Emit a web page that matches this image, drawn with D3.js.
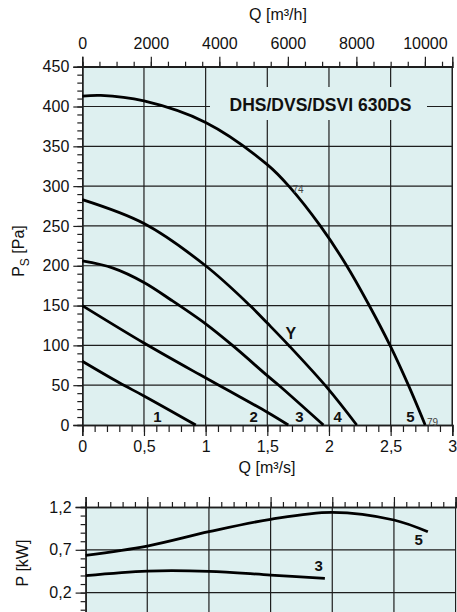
<!DOCTYPE html>
<html><head><meta charset="utf-8">
<script src="https://cdn.jsdelivr.net/npm/d3@7"></script>
<style>
html,body{margin:0;padding:0;background:#fff;}
svg{display:block;font-family:"Liberation Sans",Arial,sans-serif;}
</style></head>
<body>
<svg id="chart" width="457" height="612"></svg>
<script>
// ---------- DATA ----------
const qTicks = [0, 0.5, 1, 1.5, 2, 2.5, 3];            // m3/s
const qhTicks = [0, 2000, 4000, 6000, 8000, 10000];      // m3/h
const psTicks = [0, 50, 100, 150, 200, 250, 300, 350, 400, 450];
const pTicks = [0.2, 0.7, 1.2];

// Pressure curves [Q m3/s, Ps Pa]
const curve1 = [[0,80],[0.3,53],[0.5,36.5],[0.92,0]];
const curve2 = [[0,150],[0.5,103],[0.955,63],[1.2,42],[1.5,16],[1.67,0]];
const curve3 = [[0,206],[0.25,197],[0.5,179],[0.72,157],[1,127],[1.225,99],[1.5,62],[1.6,49],[1.955,0]];
const curve4 = [[0,283],[0.5,253],[1,200],[1.36,150],[1.5,128],[1.68,99],[1.99,46],[2.225,0]];
const curve5 = [[0,413],[0.15,414],[0.5,407],[1,380],[1.5,327],[1.68,299],[1.93,250],[2.14,201],[2.32,152],[2.495,100],[2.644,50],[2.78,0]];
const curveNames = ["1","2","3","4","5"];
const curveLabelQ = [0.61, 1.39, 1.76, 2.07, 2.66];

// Power curves [Q m3/s, P kW]
const power3 = [[0,0.398],[0.5,0.452],[1,0.449],[1.5,0.405],[1.94,0.367]];
const power5 = [[0,0.636],[0.5,0.744],[1,0.911],[1.5,1.056],[2,1.138],[2.5,1.048],[2.775,0.91]];

const title = "DHS/DVS/DSVI 630DS";

// ---------- LAYOUT ----------
const bg = "#def0f0";
const gridC = "#1e1e1e";
const svg = d3.select("#chart");
const fmt = d => String(d).replace(".", ",");
const tickFont = 16;

// ===== Top chart =====
const x = d3.scaleLinear().domain([0,3]).range([82.3, 452.3]);
const xh = d3.scaleLinear().domain([0,3*3600]).range([82.3, 452.3]);
const y = d3.scaleLinear().domain([0,450]).range([425, 66.7]);

const gTop = svg.append("g");
gTop.append("rect").attr("x", x(0)).attr("y", y(450)).attr("width", x(3)-x(0)).attr("height", y(0)-y(450)).attr("fill", bg);

// grid
gTop.selectAll("line.vg").data(qTicks.filter(d=>d>0)).join("line")
  .attr("x1", d=>x(d)).attr("x2", d=>x(d)).attr("y1", y(0)).attr("y2", y(450))
  .attr("stroke", gridC).attr("stroke-width", 1.2);
gTop.selectAll("line.hg").data(psTicks.filter(d=>d>0)).join("line")
  .attr("x1", x(0)).attr("x2", x(3)).attr("y1", d=>y(d)).attr("y2", d=>y(d))
  .attr("stroke", gridC).attr("stroke-width", 1.2);

// title box
gTop.append("rect").attr("x", 210).attr("y", 87).attr("width", 217).attr("height", 33).attr("fill", bg);
gTop.append("text").attr("x", 320.5).attr("y", 110.7).attr("text-anchor","middle")
  .attr("font-size", 17.5).attr("font-weight","bold").attr("fill","#111").text(title);

// axes
const axL = d3.axisLeft(y).tickValues(psTicks).tickSize(9).tickPadding(4).tickFormat(fmt);
gTop.append("g").attr("transform", `translate(${x(0)},0)`).call(axL);
const axLm = d3.axisLeft(y).tickValues(d3.range(0,451,10)).tickSize(5).tickFormat("");
gTop.append("g").attr("transform", `translate(${x(0)},0)`).call(axLm);

const axB = d3.axisBottom(x).tickValues(qTicks).tickSize(11).tickPadding(5).tickFormat(fmt);
gTop.append("g").attr("transform", `translate(0,${y(0)})`).call(axB);
const axBm = d3.axisBottom(x).tickValues(d3.range(0,31).map(i=>i/10)).tickSize(7).tickFormat("");
gTop.append("g").attr("transform", `translate(0,${y(0)})`).call(axBm);

const axT = d3.axisTop(xh).tickValues(qhTicks).tickSize(10).tickPadding(8).tickFormat(d=>d);
gTop.append("g").attr("transform", `translate(0,${y(450)})`).call(axT);
const axTm = d3.axisTop(xh).tickValues(d3.range(0,10801,500)).tickSize(5).tickFormat("");
gTop.append("g").attr("transform", `translate(0,${y(450)})`).call(axTm);

// right border
gTop.append("line").attr("x1", x(3)).attr("x2", x(3)).attr("y1", y(0)).attr("y2", y(450)).attr("stroke", gridC).attr("stroke-width",1.2);

svg.selectAll(".domain").attr("stroke", gridC).attr("stroke-width", 1.4);
svg.selectAll(".tick line").attr("stroke", gridC).attr("stroke-width", 1.2);
svg.selectAll(".tick text").attr("font-size", tickFont).attr("fill","#111").attr("font-family","Liberation Sans, Arial, sans-serif");

// curves
const line = d3.line().x(d=>x(d[0])).y(d=>y(d[1])).curve(d3.curveCatmullRom.alpha(0.5));
[curve1,curve2,curve3,curve4,curve5].forEach(c=>{
  gTop.append("path").attr("d", line(c)).attr("fill","none").attr("stroke","#000").attr("stroke-width",2.8);
});
curveNames.forEach((n,i)=>{
  gTop.append("text").attr("x", x(curveLabelQ[i])).attr("y", y(0)-3).attr("text-anchor","middle")
    .attr("font-size",15).attr("font-weight","bold").attr("fill","#111").text(n);
});
gTop.append("text").attr("x", x(1.69)).attr("y", y(108)).attr("text-anchor","middle")
  .attr("font-size",16).attr("font-weight","bold").attr("fill","#111").text("Y");
gTop.append("text").attr("x", x(1.75)).attr("y", y(292)).attr("text-anchor","middle")
  .attr("font-size",10).attr("fill","#444").text("74");
gTop.append("text").attr("x", x(2.84)).attr("y", y(-1)).attr("text-anchor","middle")
  .attr("font-size",10).attr("fill","#444").text("79");

// axis titles
svg.append("text").attr("x", 278).attr("y", 20).attr("text-anchor","middle").attr("font-size",16).attr("fill","#111").text("Q [m³/h]");
svg.append("text").attr("x", 267).attr("y", 473).attr("text-anchor","middle").attr("font-size",16).attr("fill","#111").text("Q [m³/s]");
const yl = svg.append("text").attr("transform","translate(24,251) rotate(-90)").attr("text-anchor","middle").attr("font-size",16).attr("fill","#111");
yl.append("tspan").text("P");
yl.append("tspan").attr("font-size",12).attr("dy",5).text("S");
yl.append("tspan").attr("dy",-5).text(" [Pa]");

// ===== Bottom chart =====
const x2 = d3.scaleLinear().domain([0,3]).range([85.6, 455.6]);
const y2 = d3.scaleLinear().domain([-0.1,1.2]).range([507+1.3*85.6, 507]);
const gBot = svg.append("g");
gBot.append("rect").attr("x", x2(0)).attr("y", y2(1.2)).attr("width", x2(3)-x2(0)).attr("height", y2(-0.1)-y2(1.2)).attr("fill", bg);
gBot.selectAll("line.vg").data(qTicks.filter(d=>d>0)).join("line")
  .attr("x1", d=>x2(d)).attr("x2", d=>x2(d)).attr("y1", y2(-0.1)).attr("y2", y2(1.2))
  .attr("stroke", gridC).attr("stroke-width", 1.2);
gBot.selectAll("line.hg").data(pTicks.filter(d=>d<1.2)).join("line")
  .attr("x1", x2(0)).attr("x2", x2(3)).attr("y1", d=>y2(d)).attr("y2", d=>y2(d))
  .attr("stroke", gridC).attr("stroke-width", 1.2);

gBot.append("g").attr("transform", `translate(${x2(0)},0)`).call(d3.axisLeft(y2).tickValues(pTicks).tickSize(10).tickPadding(4).tickFormat(fmt));
gBot.append("g").attr("transform", `translate(${x2(0)},0)`).call(d3.axisLeft(y2).tickValues(d3.range(0,13).map(i=>i/10)).tickSize(5).tickFormat(""));
gBot.append("g").attr("transform", `translate(0,${y2(1.2)})`).call(d3.axisTop(x2).tickValues(qTicks).tickSize(10).tickFormat(""));
gBot.append("g").attr("transform", `translate(0,${y2(1.2)})`).call(d3.axisTop(x2).tickValues(d3.range(0,31).map(i=>i/10)).tickSize(5).tickFormat(""));
gBot.selectAll(".domain").attr("stroke", gridC).attr("stroke-width", 1.4);
gBot.selectAll(".tick line").attr("stroke", gridC).attr("stroke-width", 1.2);
gBot.selectAll(".tick text").attr("font-size", tickFont).attr("fill","#111").attr("font-family","Liberation Sans, Arial, sans-serif");

const line2 = d3.line().x(d=>x2(d[0])).y(d=>y2(d[1])).curve(d3.curveCatmullRom.alpha(0.5));
[power3, power5].forEach(c=>{
  gBot.append("path").attr("d", line2(c)).attr("fill","none").attr("stroke","#000").attr("stroke-width",2.8);
});
gBot.append("text").attr("x", x2(1.89)).attr("y", y2(0.4)-4).attr("text-anchor","middle").attr("font-size",15).attr("font-weight","bold").attr("fill","#111").text("3");
gBot.append("text").attr("x", x2(2.7)).attr("y", y2(0.76)).attr("text-anchor","middle").attr("font-size",15).attr("font-weight","bold").attr("fill","#111").text("5");
svg.append("text").attr("transform","translate(28,563) rotate(-90)").attr("text-anchor","middle").attr("font-size",16).attr("fill","#111").text("P [kW]");
</script>
</body></html>
